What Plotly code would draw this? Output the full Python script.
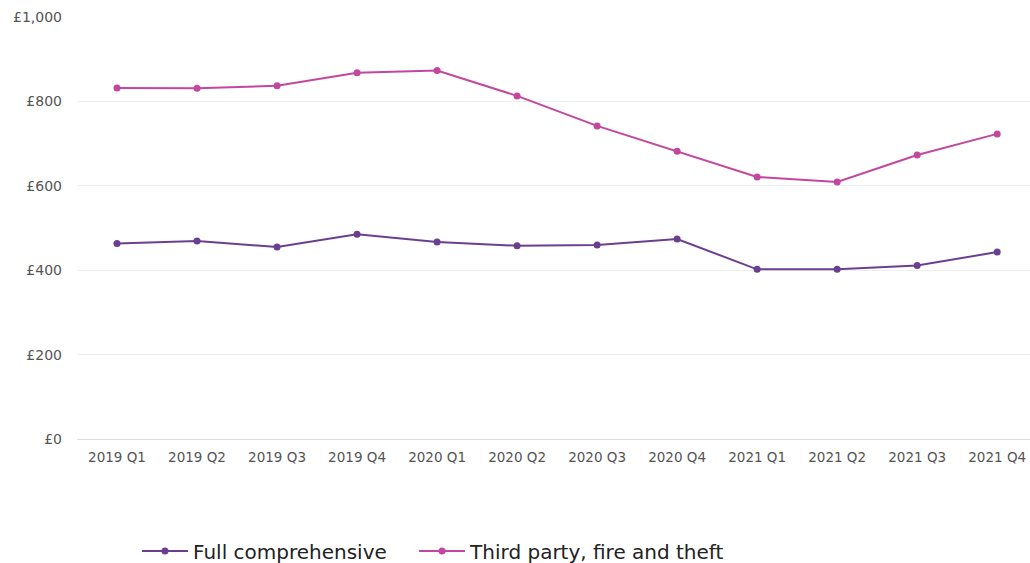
import plotly.graph_objects as go

quarters = ["2019 Q1", "2019 Q2", "2019 Q3", "2019 Q4",
            "2020 Q1", "2020 Q2", "2020 Q3", "2020 Q4",
            "2021 Q1", "2021 Q2", "2021 Q3", "2021 Q4"]
full_comprehensive = [463, 469, 455, 485, 467, 458, 460, 474, 402, 402, 411, 443]
third_party = [832, 831, 837, 868, 873, 813, 742, 682, 621, 609, 673, 723]

PURPLE = "#6b3f8f"
PINK = "#c4479f"
FONT = "DejaVu Sans"

fig = go.Figure()
fig.add_trace(go.Scatter(
    x=quarters, y=full_comprehensive, name="Full comprehensive",
    mode="lines+markers", line=dict(color=PURPLE, width=2),
    marker=dict(color=PURPLE, size=7), legend="legend"))
fig.add_trace(go.Scatter(
    x=quarters, y=third_party, name="Third party, fire and theft",
    mode="lines+markers", line=dict(color=PINK, width=2),
    marker=dict(color=PINK, size=7), legend="legend2"))

legend_common = dict(orientation="h", xref="container", yref="container",
                     xanchor="left", y=0.0213, yanchor="middle", itemwidth=46,
                     font=dict(size=20, color="#222222", family=FONT))

fig.update_layout(
    width=1030, height=563,
    margin=dict(l=77, r=0, t=17, b=124),
    paper_bgcolor="white", plot_bgcolor="white",
    font=dict(family=FONT, color="#555555", size=13),
    showlegend=True,
    legend=dict(x=0.133, **legend_common),
    legend2=dict(x=0.402, **legend_common),
    xaxis=dict(type="category", range=[-0.5, 11.41], showgrid=False,
               showline=True, linecolor="#dddddd", linewidth=1,
               ticks="", ticklabelstandoff=6, ticklabeloverflow="allow",
               tickfont=dict(size=13.5, color="#555555")),
    yaxis=dict(range=[0, 1000], dtick=200, tickprefix="£", tickformat=",d",
               showgrid=True, gridcolor="#eeeeee", gridwidth=1, zeroline=False,
               showline=False, ticks="", ticklabelstandoff=14,
               tickfont=dict(size=14, color="#555555")),
)

fig.write_html(
    "out.html",
    config={"displayModeBar": False},
    post_script="document.body.style.margin='0';document.documentElement.style.overflow='hidden';document.body.style.overflow='hidden';",
)
